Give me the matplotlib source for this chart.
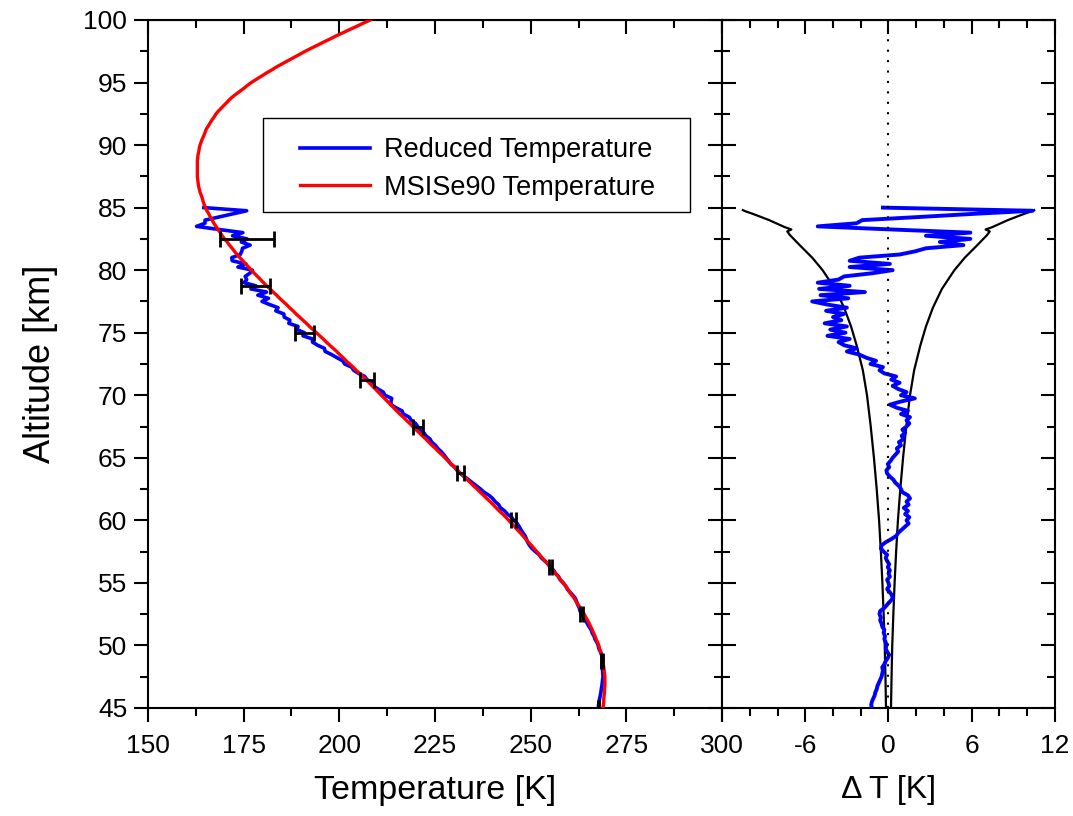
import numpy as np
import matplotlib
matplotlib.use("Agg")
import matplotlib.pyplot as plt
from matplotlib.patches import Rectangle
from matplotlib.ticker import MultipleLocator, FuncFormatter

plt.rcParams['font.family'] = ['Liberation Sans', 'DejaVu Sans']
plt.rcParams['axes.unicode_minus'] = False

# MSISe90 model temperature [K], 45..100 km in 0.25 km steps
t_msis = [
    268.9,
    269.0, 269.1, 269.1, 269.2, 269.3,
    269.3, 269.4, 269.4, 269.4, 269.4,
    269.3, 269.2, 269.1, 269.0, 268.9,
    268.7, 268.5, 268.3, 268.0, 267.8,
    267.5, 267.1, 266.8, 266.4, 266.1,
    265.7, 265.3, 264.9, 264.4, 264.0,
    263.5, 263.0, 262.4, 261.9, 261.4,
    260.8, 260.2, 259.7, 259.1, 258.5,
    257.8, 257.2, 256.5, 255.9, 255.2,
    254.5, 253.8, 253.0, 252.3, 251.6,
    250.9, 250.2, 249.4, 248.7, 248.0,
    247.3, 246.5, 245.8, 245.0, 244.3,
    243.5, 242.7, 241.8, 241.0, 240.2,
    239.4, 238.5, 237.7, 236.8, 236.0,
    235.1, 234.3, 233.4, 232.6, 231.7,
    230.9, 230.1, 229.2, 228.4, 227.6,
    226.8, 225.9, 225.1, 224.2, 223.4,
    222.6, 221.7, 220.9, 220.0, 219.2,
    218.4, 217.5, 216.7, 215.8, 215.0,
    214.2, 213.4, 212.6, 211.8, 211.0,
    210.2, 209.4, 208.6, 207.8, 207.0,
    206.1, 205.3, 204.4, 203.6, 202.7,
    201.8, 201.0, 200.1, 199.3, 198.4,
    197.5, 196.6, 195.8, 194.9, 194.0,
    193.1, 192.2, 191.4, 190.5, 189.6,
    188.7, 187.9, 187.0, 186.2, 185.3,
    184.4, 183.6, 182.7, 181.9, 181.0,
    180.2, 179.4, 178.6, 177.8, 177.0,
    176.3, 175.5, 174.8, 174.0, 173.3,
    172.6, 172.0, 171.3, 170.7, 170.0,
    169.4, 168.9, 168.3, 167.8, 167.2,
    166.8, 166.3, 165.9, 165.4, 165.0,
    164.7, 164.4, 164.2, 163.9, 163.6,
    163.4, 163.2, 163.1, 163.0, 162.9,
    162.9, 162.9, 162.9, 162.9, 162.9,
    163.0, 163.1, 163.3, 163.4, 163.6,
    163.9, 164.2, 164.6, 164.9, 165.2,
    165.7, 166.2, 166.7, 167.3, 167.8,
    168.5, 169.3, 170.1, 170.9, 171.7,
    172.7, 173.8, 174.9, 175.9, 177.0,
    178.3, 179.6, 180.9, 182.3, 183.6,
    185.1, 186.6, 188.1, 189.6, 191.1,
    192.7, 194.4, 196.0, 197.7, 199.3,
    201.1, 202.8, 204.6, 206.3, 208.1,
]

# reduced minus model temperature [K], 45..85 km in 0.25 km steps
delta_t = [
    -1.2, -1.25, -1.2, -1.1,
    -1.0, -0.95, -0.85, -0.8,
    -0.7, -0.6, -0.5, -0.45,
    -0.4, -0.45, -0.3, -0.2,
    -0.05, 0.05, -0.1, -0.2,
    -0.15, -0.2, -0.3, -0.25,
    -0.35, -0.3, -0.45, -0.5,
    -0.6, -0.55, -0.65, -0.6,
    -0.3, -0.1, 0.1, 0.3,
    0.25, 0.1, -0.1, 0.05,
    0.0, -0.1, 0.1, 0.0,
    0.1, -0.05, 0.05, -0.1,
    -0.2, -0.1, -0.35, -0.55,
    -0.5, -0.2, 0.2, 0.55,
    0.7, 0.95, 1.2, 1.45,
    1.3, 1.5, 1.2, 1.4,
    1.1, 1.45, 1.3, 1.55,
    1.4, 1.0, 0.9, 0.75,
    0.5, 0.35, 0.1, -0.1,
    -0.15, 0.05, -0.05, 0.15,
    0.3, 0.5, 0.7, 0.6,
    0.9, 0.75, 1.1, 0.95,
    1.2, 1.0, 1.3, 1.5,
    1.3, 1.55, 0.9, 1.4,
    0.6, 0.1, 0.9, 1.9,
    0.9, 1.3, 0.7, 0.3,
    0.8, 0.2, 0.55, -0.3,
    -0.65, -0.4, -1.3, -0.9,
    -1.6, -2.1, -3.0, -2.3,
    -3.2, -3.6, -2.8, -4.4,
    -3.1, -4.2, -3.0, -4.6,
    -3.4, -4.0, -3.2, -4.5,
    -3.0, -4.4, -5.5, -2.9,
    -4.9, -1.7, -5.0, -2.8,
    -5.1, -3.6, -3.2, -1.2,
    0.3, -2.8, 0.1, -2.8,
    -2.1, 0.8, 1.9, 2.7,
    5.4, 3.7, 5.9, 2.7,
    5.9, 0.3, -5.1, -2.3,
    -1.9, 2.2, 6.1, 10.4,
    -0.4,
]

# statistical uncertainty of the reduced profile
err_sigma = [0.18, 0.24, 0.34, 0.48, 0.68, 0.95, 1.28, 1.75, 2.55, 3.8, 7.0]
env_alt = [45.0, 47.5, 50.0, 52.5, 55.0, 57.5, 60.0, 62.5, 65.0, 67.5, 70.0,
           72.0, 74.0, 75.5, 77.0, 78.5, 80.0, 81.0, 82.0, 82.8, 83.1, 83.25,
           83.45, 83.7, 84.0, 84.3, 84.55, 84.7, 84.8]
env_sigma = [0.18, 0.22, 0.27, 0.35, 0.44, 0.55, 0.68, 0.85, 1.05, 1.28, 1.55,
             1.85, 2.3, 2.7, 3.2, 3.85, 4.75, 5.5, 6.4, 7.1, 7.3, 7.0,
             7.5, 8.0, 8.6, 9.3, 9.9, 10.3, 10.5]

t_msis = np.array(t_msis)
delta_t = np.array(delta_t)
alt_msis = np.linspace(45, 100, len(t_msis))
alt_red = np.linspace(45, 85, len(delta_t))
t_red = t_msis[:len(delta_t)] + delta_t

# error bars every 3.75 km (every 15th sample)
err_idx = np.arange(0, len(delta_t), 15)
env_sigma = np.array(env_sigma)

BLUE = '#0000ff'
RED = '#ff0000'

fig = plt.figure(figsize=(10.73, 8.16), dpi=100)
ax1 = fig.add_axes([0.1379, 0.1324, 0.535, 0.8431])
ax2 = fig.add_axes([0.6729, 0.1324, 0.3103, 0.8431])

ax1.plot(t_red, alt_red, color=BLUE, lw=2.6, label='Reduced Temperature', zorder=2)
ax1.plot(t_msis, alt_msis, color=RED, lw=2.4, label='MSISe90 Temperature', zorder=3)
ax1.errorbar(t_red[err_idx], alt_red[err_idx], xerr=err_sigma, fmt='none',
             ecolor='black', elinewidth=2, capsize=5.5, capthick=2, zorder=4)

ax2.plot(-env_sigma, env_alt, color='black', lw=1.6, zorder=2)
ax2.plot(env_sigma, env_alt, color='black', lw=1.6, zorder=2)
ax2.plot(delta_t, alt_red, color=BLUE, lw=2.8, zorder=3)
ax2.axvline(0, color='black', lw=1.5, ls=(0, (1, 4)), zorder=4)

ax1.set_xlim(150, 300)
ax2.set_xlim(-12, 12)
for ax in (ax1, ax2):
    ax.set_ylim(45, 100)
    ax.yaxis.set_major_locator(MultipleLocator(5))
    ax.yaxis.set_minor_locator(MultipleLocator(2.5))
    for sp in ax.spines.values():
        sp.set_linewidth(1.5)
    ax.tick_params(which='major', length=10, width=1.5, labelsize=19)
    ax.tick_params(which='minor', length=5.5, width=1.5)
    ax.tick_params(axis='x', which='both', direction='out', pad=9)

ax1.xaxis.set_major_locator(MultipleLocator(25))
ax1.xaxis.set_minor_locator(MultipleLocator(12.5))
ax2.xaxis.set_major_locator(MultipleLocator(6))
ax2.xaxis.set_minor_locator(MultipleLocator(2))
ax2.xaxis.set_major_formatter(FuncFormatter(lambda v, p: '' if v <= -12 else '%d' % v))

ax1.tick_params(axis='y', which='both', direction='out', pad=5)
ax2.tick_params(axis='y', which='both', direction='in', left=True, right=True,
                labelleft=False)

# mirrored inward ticks on the top / right edges
for ax, step, minor in ((ax1, 25, 12.5), (ax2, 6, 2)):
    top = ax.secondary_xaxis('top')
    top.xaxis.set_major_locator(MultipleLocator(step))
    top.xaxis.set_minor_locator(MultipleLocator(minor))
    top.tick_params(which='major', direction='in', length=10, width=1.5, labeltop=False)
    top.tick_params(which='minor', direction='in', length=5.5, width=1.5)
right = ax1.secondary_yaxis('right')
right.yaxis.set_major_locator(MultipleLocator(5))
right.yaxis.set_minor_locator(MultipleLocator(2.5))
right.tick_params(which='major', direction='in', length=10, width=1.5, labelright=False)
right.tick_params(which='minor', direction='in', length=5.5, width=1.5)

ax1.set_xlabel('Temperature [K]', fontsize=24.5, labelpad=12)
ax2.set_xlabel('\u0394 T [K]', fontsize=23, labelpad=12)
ax1.set_ylabel('Altitude [km]', fontsize=26, labelpad=18)

# legend entries with a plain rectangular frame
leg = ax1.legend(loc='center left', bbox_to_anchor=(0.2648, 0.7834), fontsize=19.5,
                 frameon=False, handlelength=2.6, borderpad=0, labelspacing=0.42,
                 handletextpad=0.5, borderaxespad=0)
ax1.add_patch(Rectangle((0.2003, 0.7209), 0.744, 0.1367, transform=ax1.transAxes,
                        fill=False, edgecolor='black', lw=1.0, zorder=5))

fig.savefig('out.png', dpi=100)
